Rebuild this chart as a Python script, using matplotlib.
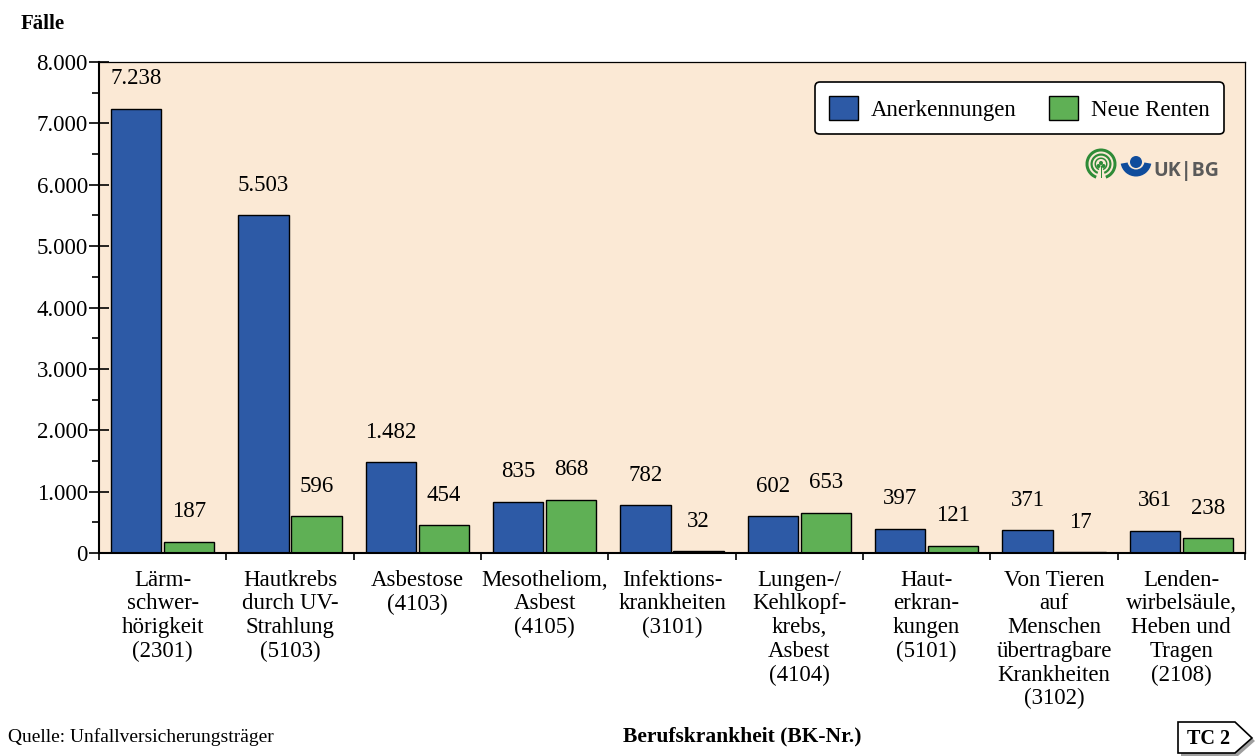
import numpy as np
import matplotlib
matplotlib.use("Agg")
import matplotlib.pyplot as plt
from matplotlib.patches import Polygon, Wedge, Circle, Rectangle
from matplotlib.ticker import MultipleLocator, FuncFormatter

plt.rcParams['font.family'] = ['Liberation Serif', 'DejaVu Serif']

categories = ["Lärm-\nschwer-\nhörigkeit\n(2301)",
              "Hautkrebs\ndurch UV-\nStrahlung\n(5103)",
              "Asbestose\n(4103)",
              "Mesotheliom,\nAsbest\n(4105)",
              "Infektions-\nkrankheiten\n(3101)",
              "Lungen-/\nKehlkopf-\nkrebs,\nAsbest\n(4104)",
              "Haut-\nerkran-\nkungen\n(5101)",
              "Von Tieren\nauf\nMenschen\nübertragbare\nKrankheiten\n(3102)",
              "Lenden-\nwirbelsäule,\nHeben und\nTragen\n(2108)"]
anerkennungen = [7238, 5503, 1482, 835, 782, 602, 397, 371, 361]
neue_renten = [187, 596, 454, 868, 32, 653, 121, 17, 238]

W, H = 1258, 756
BLUE = '#2D5AA6'
GREEN = '#5FB055'
BG = '#FBE9D5'
FS = 16.5


def de(v):
    return f"{int(v):,}".replace(",", ".")


def fx(px):
    return px / W


def fy(py):
    return 1 - py / H


fig = plt.figure(figsize=(W / 100, H / 100), dpi=100, facecolor='white')
ax = fig.add_axes([fx(99), fy(553), (1245 - 99) / W, (553 - 62) / H], facecolor=BG)

x = np.arange(len(categories))
bw = 0.393
off = 0.208
ax.bar(x - off, anerkennungen, bw, color=BLUE, edgecolor='black', linewidth=1, label='Anerkennungen')
ax.bar(x + off, neue_renten, bw, color=GREEN, edgecolor='black', linewidth=1, label='Neue Renten')

for i in x:
    ax.annotate(de(anerkennungen[i]), (i - off, anerkennungen[i]), xytext=(0, 14), textcoords='offset points',
                ha='center', va='bottom', fontsize=FS)
    ax.annotate(de(neue_renten[i]), (i + off, neue_renten[i]), xytext=(0, 14), textcoords='offset points',
                ha='center', va='bottom', fontsize=FS)

ax.set_xlim(-0.5, len(categories) - 0.5)
ax.set_ylim(0, 8000)
ax.yaxis.set_major_locator(MultipleLocator(1000))
ax.yaxis.set_minor_locator(MultipleLocator(500))
ax.yaxis.set_major_formatter(FuncFormatter(lambda v, p: de(v)))
ax.tick_params(axis='y', which='major', direction='inout', length=14, width=1.2, labelsize=FS, pad=1)
ax.tick_params(axis='y', which='minor', direction='out', length=5, width=1.2)
ax.set_xticks(np.arange(len(categories) + 1) - 0.5)
ax.set_xticklabels([])
ax.tick_params(axis='x', direction='out', length=5, width=1.2)
ax.set_xticks(x, minor=True)
ax.set_xticklabels(categories, minor=True, fontsize=FS, linespacing=1.17)
ax.tick_params(axis='x', which='minor', length=0, pad=12)

for s in ['top', 'right']:
    ax.spines[s].set_linewidth(0.9)
for s in ['left', 'bottom']:
    ax.spines[s].set_linewidth(1.5)

leg = ax.legend(loc='upper right', bbox_to_anchor=(fx(1224 - 99) * W / (1245 - 99), (553 - 82) / (553 - 62)),
                borderaxespad=0, ncol=2, frameon=True, fancybox=True, fontsize=FS, framealpha=1,
                edgecolor='black', facecolor='white', handlelength=1.25, handleheight=1.25,
                handletextpad=0.6, columnspacing=1.4, borderpad=0.6)
leg.get_frame().set_linewidth(1.2)

fig.text(fx(21), fy(24), "Fälle", fontsize=15, fontweight='bold', ha='left', va='center')
fig.text(fx(8), fy(737), "Quelle: Unfallversicherungsträger", fontsize=14, ha='left', va='center')
fig.text(fx(742), fy(736), "Berufskrankheit (BK-Nr.)", fontsize=15.5, fontweight='bold', ha='center', va='center')

# overlay in pixel coords for logo and tag
ov = fig.add_axes([0, 0, 1, 1], facecolor='none')
ov.set_xlim(0, W)
ov.set_ylim(H, 0)
ov.axis('off')

# TC 2 tag
tag = [(1178, 722), (1235, 722), (1252, 738), (1235, 753), (1178, 753)]
ov.add_patch(Polygon([(a + 3, b + 3) for a, b in tag], closed=True, fc='#777777', ec='none', alpha=0.7, clip_on=False))
ov.add_patch(Polygon(tag, closed=True, fc='white', ec='black', lw=1.2, clip_on=False))
ov.text(1209, 738.5, "TC 2", fontsize=14.5, fontweight='bold', ha='center', va='center')

# logo
LG = '#2E8B37'
cx, cy = 1101, 164
for r, w in [(15.5, 3), (10.5, 2.2)]:
    ov.add_patch(Wedge((cx, cy), r, 110, 70, width=w, fc=LG, ec='none'))
ov.add_patch(Wedge((cx, cy), 6.5, 110, 70, width=1.5, fc=LG, ec='none'))
for dx, dy in [(-2.5, 2), (2.5, 2), (0, -1)]:
    ov.add_patch(Circle((cx + dx, cy + dy), 2, fc=LG, ec='none'))
ov.add_patch(Rectangle((cx - 0.5, cy + 2), 1, 12, fc=LG, ec='none'))

LB = '#0F4C9C'
ov.add_patch(Circle((1136, 162), 6, fc=LB, ec='none'))
ov.add_patch(Wedge((1136, 160), 16, 0, 180, width=7, fc=LB, ec='none', theta1=0) if False else
             Wedge((1136, 161), 15.5, 10, 170, width=7, fc=LB, ec='none'))
ov.text(1186, 171, "UK|BG", fontsize=14, fontweight='bold', family='Open Sans', color='#5A5A5A',
        ha='center', va='center')

fig.savefig("out.png", dpi=100)
